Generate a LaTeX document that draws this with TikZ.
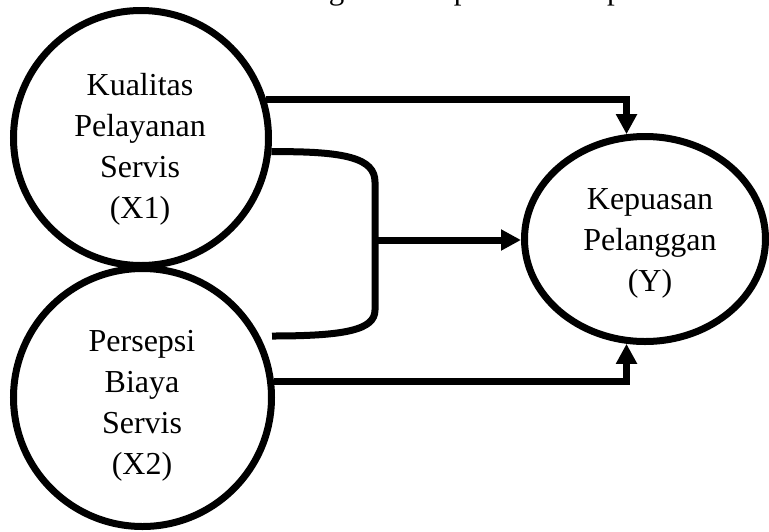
\documentclass[tikz,border=0pt]{standalone}
\usepackage{fontspec}
\setmainfont{Liberation Serif}
\usetikzlibrary{arrows.meta,shapes.geometric}
\begin{document}
\begin{tikzpicture}[x=1pt,y=-1pt,
  var/.style={circle,draw,line width=7pt,inner sep=0pt},
  lbl/.style={align=center,font=\fontsize{32}{41}\selectfont,inner sep=0pt},
  hdr/.style={font=\fontsize{31}{41}\selectfont,inner sep=0pt},
  conn/.style={line width=7pt},
  arr/.style={conn,-{Triangle[length=20pt,width=20pt]}}]
\useasboundingbox (0,0) rectangle (769,531);
\clip (0,0) rectangle (769,531);
\node[hdr,anchor=base west] (h) at (30,-1) {Berikut ini adalah kerangka konseptual dalam penelitian ini:};
\node[var,minimum size=255pt] (x1) at (141,138) {};
\node[var,minimum size=258pt] (x2) at (142.5,397.5) {};
\node[ellipse,draw,line width=7pt,inner sep=0pt,minimum width=241pt,minimum height=205pt] (y) at (645,239) {};
\node[lbl] (t1) at (140,149) {Kualitas\\Pelayanan\\Servis\\(X1)};
\node[lbl] (t2) at (142,406) {Persepsi\\Biaya\\Servis\\(X2)};
\node[lbl] (ty) at (650,243) {Kepuasan\\Pelanggan\\(Y)};
\draw[arr] (x1.17) -| (y.100);
\draw[arr] (x2.7) -| (y.260);
\coordinate (bend) at (272,336);
\draw[conn] (x1.-6) .. controls (345,151) and (375,158) .. (375,182) -- (375,310) .. controls (375,330) and (345,336) .. (bend);
\coordinate (m) at (375,240);
\draw[arr] (m) -- (m -| y.west);
\end{tikzpicture}
\end{document}
